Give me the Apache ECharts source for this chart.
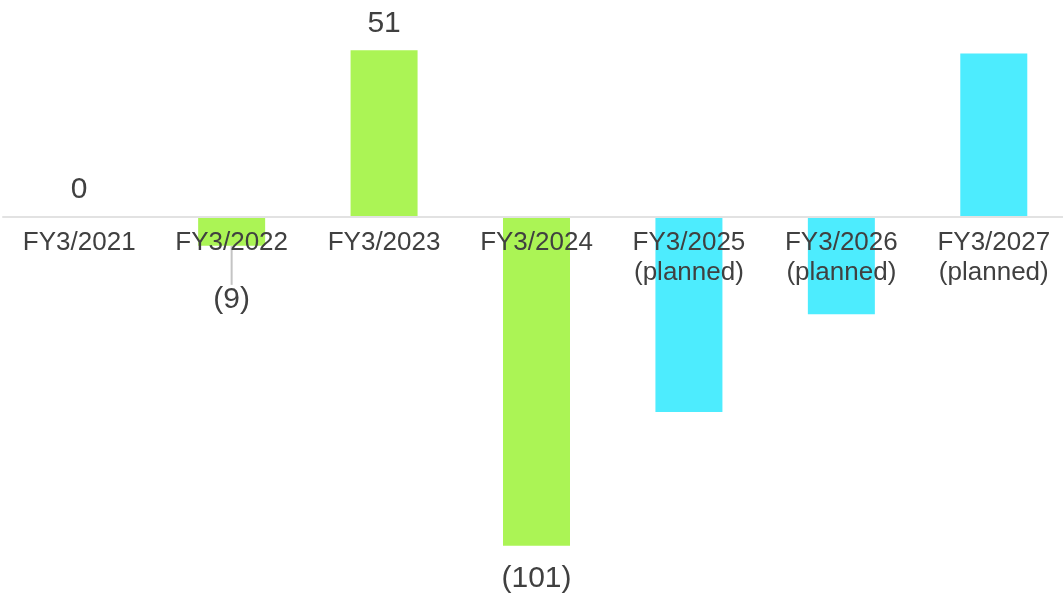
<!DOCTYPE html>
<html>
<head>
<meta charset="utf-8">
<script src="https://cdn.jsdelivr.net/npm/echarts@6/dist/echarts.min.js"></script>
<style>
  html, body { margin: 0; padding: 0; background: #ffffff; }
  #chart { width: 1063px; height: 597px; }
</style>
</head>
<body>
<div id="chart"></div>
<script>
// Fiscal years shown on the category axis
const categories = [
  'FY3/2021', 'FY3/2022', 'FY3/2023', 'FY3/2024',
  'FY3/2025\n(planned)', 'FY3/2026\n(planned)', 'FY3/2027\n(planned)'
];
// Yearly values (negative = loss / outflow)
const values = [0, -9, 51, -101, -60, -30, 50];
// Whether each year is a plan rather than an actual result
const planned = [false, false, false, false, true, true, true];

const ACTUAL_COLOR = '#abf455';
const PLANNED_COLOR = '#4decfe';
const TEXT_COLOR = '#404040';
const FONT = '"Liberation Sans", Arial, sans-serif';
const Y_MIN = -110;
const Y_MAX = 60;

const chart = echarts.init(document.getElementById('chart'), null, { renderer: 'canvas' });

const fmt = v => (v < 0 ? '(' + Math.abs(v) + ')' : String(v));

const data = values.map((v, i) => ({
  value: v,
  itemStyle: { color: planned[i] ? PLANNED_COLOR : ACTUAL_COLOR },
  label: planned[i]
    ? { show: false }
    : (v < 0
        ? { show: true, position: 'bottom', distance: 18 }
        : { show: true, position: 'top', distance: 12 }),
  labelLine: { show: false }
}));
// the small FY3/2022 value gets its label pushed below the axis text with a guide line
data[1].label.distance = 15;
data[1].label.padding = [10, 0, 0, 0];
data[1].labelLine = { show: true, lineStyle: { color: '#c4c4c4', width: 2 } };

const xAxisBase = {
  type: 'category',
  data: categories,
  z: 10,
  axisLine: { show: true, onZero: false, lineStyle: { color: '#e2e2e2', width: 2 } },
  axisTick: { show: false },
  axisLabel: {
    color: TEXT_COLOR,
    fontFamily: FONT,
    fontSize: 26,
    lineHeight: 30,
    margin: 11,
    interval: 0
  }
};

chart.setOption({
  animation: false,
  backgroundColor: '#ffffff',
  grid: {
    left: 3, right: -7, top: 21, bottom: 22,
    containLabel: false,
    outerBoundsMode: 'none'
  },
  xAxis: xAxisBase,
  yAxis: {
    type: 'value',
    min: Y_MIN,
    max: Y_MAX,
    show: false,
    splitLine: { show: false }
  },
  series: [{
    type: 'bar',
    data: data,
    barWidth: 67,
    label: {
      show: true,
      color: TEXT_COLOR,
      fontFamily: FONT,
      fontSize: 30,
      formatter: p => fmt(p.value)
    },
    labelLayout: function (params) {
      if (params.dataIndex === 1) {
        return { dy: 14 };
      }
      return {};
    }
  }]
});

// move the category axis (line and labels) up to the zero value
const zeroY = chart.convertToPixel({ yAxisIndex: 0 }, 0);
const floorY = chart.convertToPixel({ yAxisIndex: 0 }, Y_MIN);
chart.setOption({ xAxis: { offset: zeroY - floorY } });
</script>
</body>
</html>
